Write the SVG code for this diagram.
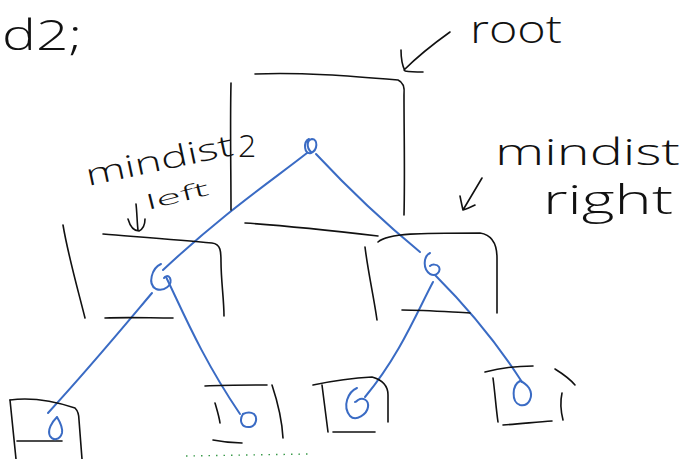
<svg xmlns="http://www.w3.org/2000/svg" width="681" height="459" viewBox="0 0 681 459">
  <style>
    .ink { fill: none; stroke: #111; stroke-width: 1.6; stroke-linecap: round; stroke-linejoin: round; }
    .pen { fill: none; stroke: #3a6bc4; stroke-width: 2; stroke-linecap: round; stroke-linejoin: round; }
    .note { font-family: "Open Sans", "DejaVu Sans", sans-serif; fill: #111; font-weight: 300; }
  </style>
  <rect width="681" height="459" fill="#fff"/>

  <!-- heading at the top-left corner -->
  <text class="note" x="2" y="50" font-size="42" textLength="80" lengthAdjust="spacingAndGlyphs">d2;</text>

  <!-- annotations -->
  <g id="label-root">
    <text class="note" x="470" y="43" font-size="38" textLength="92" lengthAdjust="spacingAndGlyphs">root</text>
    <path class="ink" d="M450,32 C436,42 418,56 404,70 M401,50 C401,58 402,65 405,71 C411,72 417,72 423,72"/>
  </g>
  <g id="label-left">
    <text class="note" font-size="30" transform="translate(88,186) rotate(-12)" textLength="150" lengthAdjust="spacingAndGlyphs">mindist</text>
    <text class="note" x="238" y="157" font-size="32">2</text>
    <text class="note" font-size="20" transform="translate(148,210) rotate(-14)" textLength="64" lengthAdjust="spacingAndGlyphs">left</text>
    <path class="ink" d="M136,204 C137,212 137,222 138,230 M128,219 C130,226 134,231 139,231 C143,229 145,225 145,219"/>
  </g>
  <g id="label-right">
    <text class="note" x="495" y="165" font-size="36" textLength="185" lengthAdjust="spacingAndGlyphs">mindist</text>
    <text class="note" x="543" y="214" font-size="40" textLength="130" lengthAdjust="spacingAndGlyphs">right</text>
    <path class="ink" d="M482,178 C476,188 469,200 463,210 M460,196 C461,201 462,206 463,210 C467,209 471,207 475,205"/>
  </g>

  <!-- connectors -->
  <g id="connectors">
    <path class="pen" d="M307,153 C270,182 225,212 163,270"/>
    <path class="pen" d="M316,154 C345,185 375,215 420,252"/>
    <path class="pen" d="M152,293 C125,325 92,365 48,413"/>
    <path class="pen" d="M166,277 C180,305 200,355 240,414"/>
    <path class="pen" d="M433,282 C418,310 400,355 365,397"/>
    <path class="pen" d="M435,275 C460,300 495,340 522,382"/>
  </g>

  <!-- root -->
  <g id="node-root">
    <path class="ink" d="M231,83 C230,125 231,170 231,210"/>
    <path class="ink" d="M255,74 C300,72 350,76 398,80 C403,82 405,86 404,95 C404,135 405,175 404,215"/>
    <path class="pen" d="M309,139 C303,142 304,155 311,153 C318,150 318,139 312,139 C307,140 306,147 311,152"/>
  </g>

  <!-- stroke between the two child boxes -->
  <path class="ink" d="M245,223 C290,226 335,231 378,236"/>

  <!-- left child -->
  <g id="node-left">
    <path class="ink" d="M63,225 C68,255 78,290 85,318"/>
    <path class="ink" d="M103,234 C140,237 180,240 212,243 C221,244 221,252 221,262 C221,280 224,300 224,316"/>
    <path class="ink" d="M105,318 C128,317 150,318 173,318"/>
    <path class="pen" d="M161,264 C152,268 147,284 156,289 C164,292 173,285 170,278 C168,275 165,276 164,278"/>
  </g>

  <!-- right child -->
  <g id="node-right">
    <path class="ink" d="M365,247 C368,272 374,298 377,320"/>
    <path class="ink" d="M378,242 C388,233 420,233 480,233 C493,235 497,245 497,258 C497,280 497,298 497,313"/>
    <path class="ink" d="M402,310 C425,310 450,312 470,313"/>
    <path class="pen" d="M430,253 C424,256 422,268 430,274 C436,277 441,272 439,267 C437,264 432,264 430,266"/>
  </g>

  <!-- leaves -->
  <g id="leaf-1">
    <path class="ink" d="M10,400 C12,420 14,440 16,459"/>
    <path class="ink" d="M10,400 C25,398 45,398 75,408 C79,412 79,416 79,420 C80,433 81,446 82,459"/>
    <path class="ink" d="M17,441 C32,441 48,441 62,441"/>
    <path class="pen" d="M57,417 C52,422 47,430 50,436 C53,441 60,440 62,433 C63,428 60,422 57,417"/>
  </g>
  <g id="leaf-2">
    <path class="ink" d="M205,386 C225,385 246,385 267,385"/>
    <path class="ink" d="M215,403 C217,410 219,416 220,423"/>
    <path class="ink" d="M272,385 C278,403 282,420 283,438"/>
    <path class="ink" d="M213,440 C223,442 233,443 242,443"/>
    <path class="pen" d="M243,414 C239,420 241,428 250,427 C256,426 258,418 254,414 C251,412 247,412 243,414"/>
  </g>
  <g id="leaf-3">
    <path class="ink" d="M313,385 C332,381 352,378 372,377 C383,380 388,386 388,395 C388,405 388,414 388,422"/>
    <path class="ink" d="M322,385 C324,400 326,416 328,432"/>
    <path class="ink" d="M333,432 C347,432 361,432 375,432"/>
    <path class="pen" d="M357,388 C348,392 342,406 350,416 C356,422 367,414 368,407 C369,400 363,397 358,400 C357,401 356,402 355,402"/>
  </g>
  <g id="leaf-4">
    <path class="ink" d="M485,372 C500,368 517,366 533,366"/>
    <path class="ink" d="M493,378 C495,393 496,408 498,422"/>
    <path class="ink" d="M503,425 C520,424 536,422 552,421"/>
    <path class="ink" d="M555,369 C563,374 570,379 575,385"/>
    <path class="ink" d="M562,393 C560,402 561,412 563,420"/>
    <path class="pen" d="M520,381 C512,385 511,402 520,405 C529,407 534,396 529,388 C526,384 523,382 520,381"/>
  </g>

  <!-- green marks along the lower edge -->
  <path d="M186,456 L310,454" fill="none" stroke="#3a9a4a" stroke-width="1.4" stroke-dasharray="1.5 6"/>
</svg>
